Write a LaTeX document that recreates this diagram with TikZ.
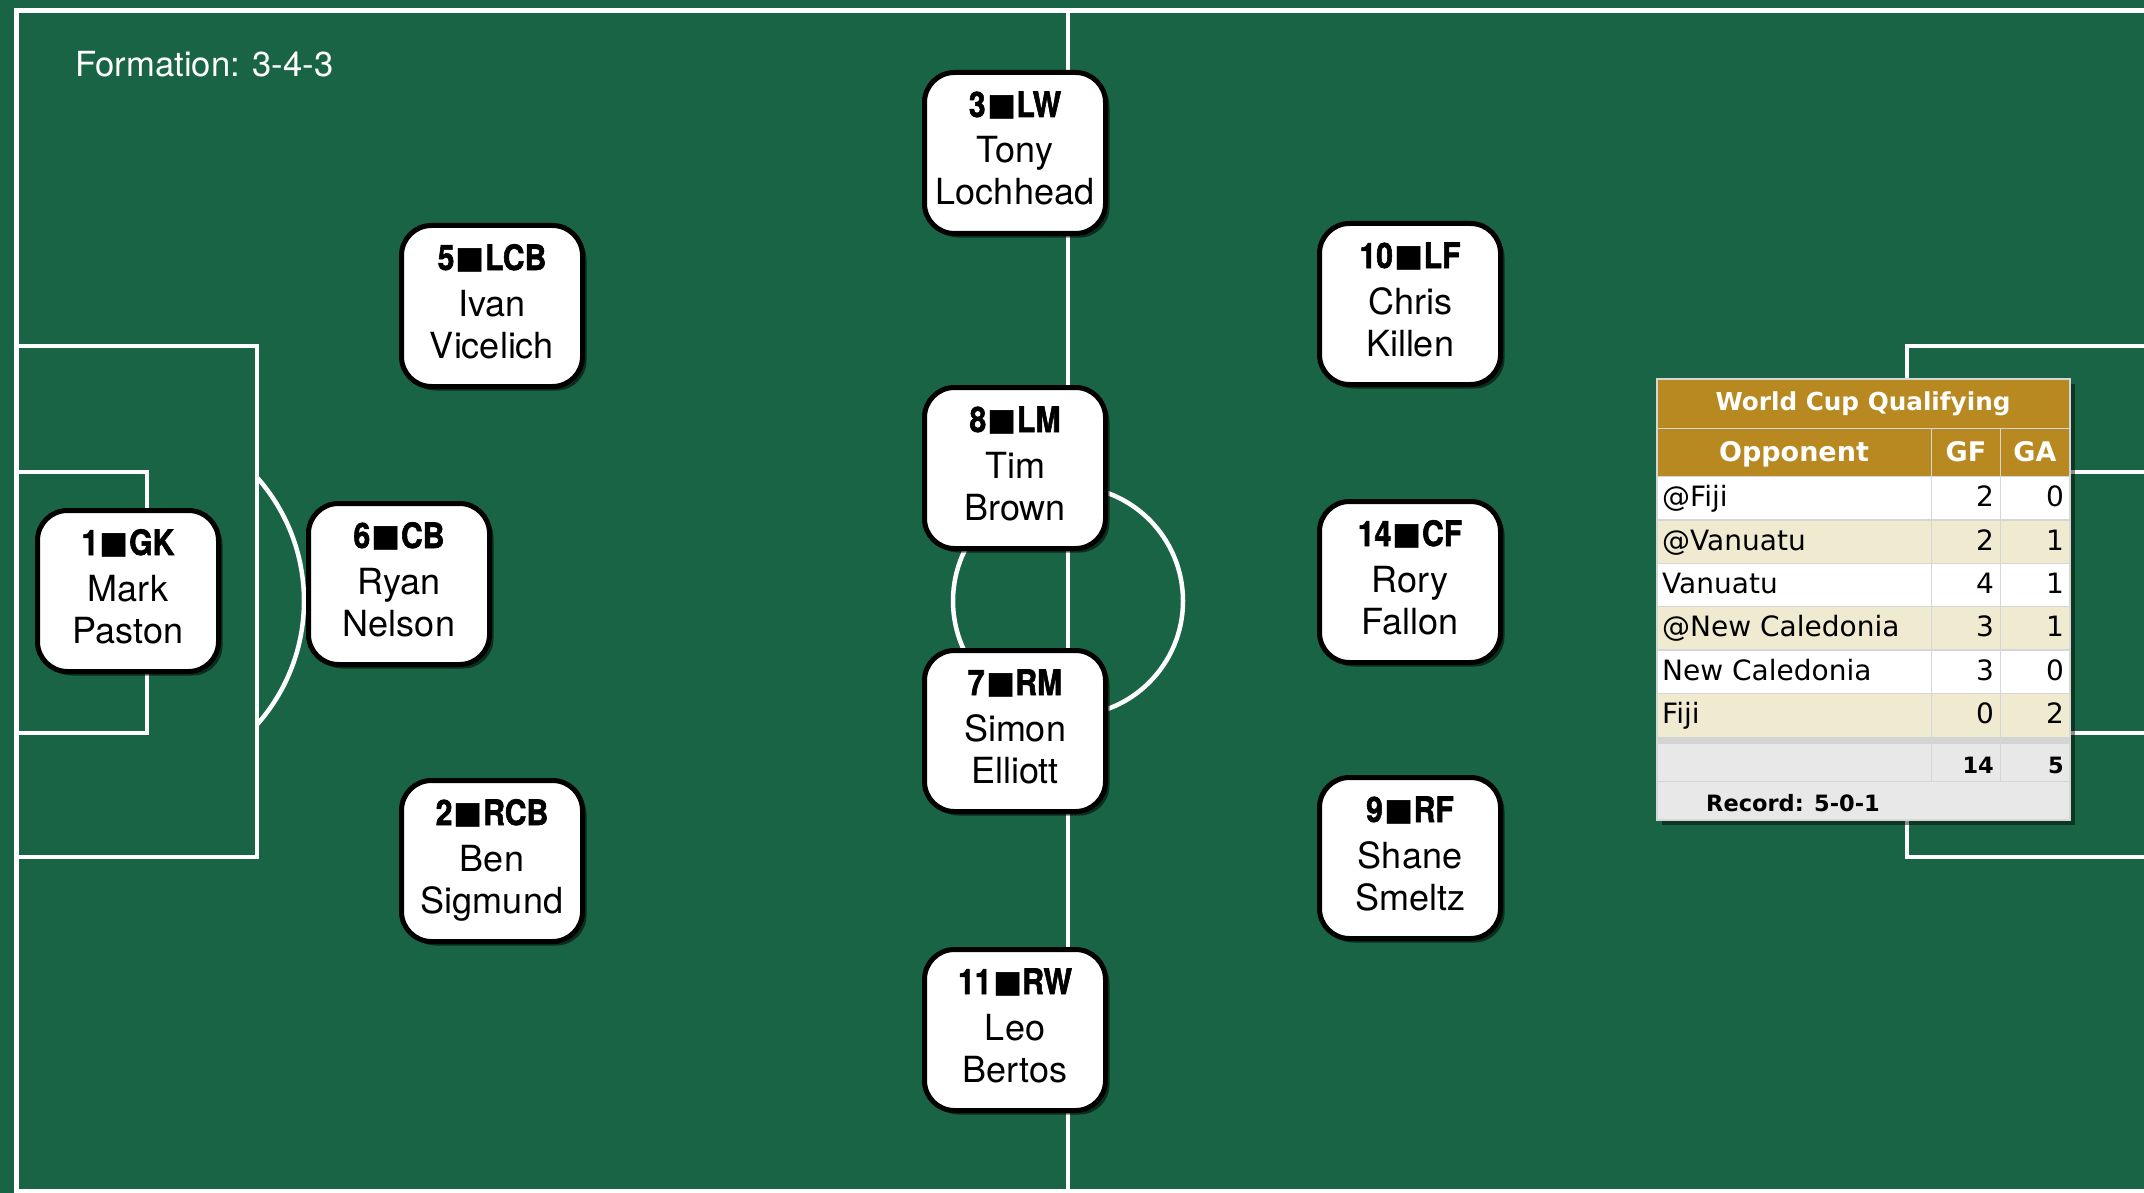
\documentclass[tikz,border=0pt]{standalone}
\usepackage{fontspec}
\setmainfont{TeX Gyre Heros}
\newfontfamily\tabfont{DejaVu Sans}
\newfontfamily\posfont{TeX Gyre Heros}[FakeStretch=0.86,FakeBold=1.6]
\newfontfamily\sqfont{DejaVu Sans}
\usetikzlibrary{shadows,calc}
\definecolor{pitch}{RGB}{25,100,68}
\definecolor{gold}{RGB}{184,137,32}
\definecolor{beige}{RGB}{240,234,208}
\definecolor{totgray}{RGB}{232,232,232}
\definecolor{sepgray}{RGB}{212,212,212}
\definecolor{gridgray}{RGB}{214,214,214}
\tikzset{
 fieldline/.style={draw=white, line width=4.5pt},
 pbox/.style={draw=black, fill=white, line width=5pt, rounded corners=30pt,
   minimum width=181pt, minimum height=161pt, inner sep=0pt,
   drop shadow={shadow xshift=4pt, shadow yshift=-4pt, opacity=0.55, fill=black}},
 plabel/.style={anchor=base, inner sep=0pt, font=\posfont\bfseries\fontsize{35}{40}\selectfont},
 pname/.style={anchor=base, inner sep=0pt, font=\fontsize{36}{40}\selectfont},
 ttitle/.style={anchor=base, inner sep=0pt, text=white, font=\tabfont\bfseries\fontsize{24.7}{30}\selectfont},
 thead/.style={anchor=base, inner sep=0pt, text=white, font=\tabfont\bfseries\fontsize{27}{30}\selectfont},
 tcell/.style={inner sep=0pt, font=\tabfont\fontsize{28}{30}\selectfont},
 ttot/.style={inner sep=0pt, font=\tabfont\bfseries\fontsize{22.5}{26}\selectfont},
 gridln/.style={draw=gridgray, line width=1.3pt},
}
\newcommand{\player}[7]{%
  \node[pbox] (#1) at (#2,#3) {};
  \node[plabel] (#1-pos) at ($(#1.center)+(0,-36)$) {#4\hspace{1.5pt}\raisebox{1.5pt}{\sqfont\fontsize{31}{31}\selectfont ■}\hspace{0pt}#5};
  \node[pname] (#1-first) at ($(#1.center)+(0,10)$) {#6};
  \node[pname] (#1-last) at ($(#1.center)+(0,52)$) {#7};
}
\begin{document}
\begin{tikzpicture}[x=1pt,y=-1pt]
\useasboundingbox (0,0) rectangle (2144,1193);
\fill[pitch] (0,0) rectangle (2144,1193);
% field markings
\draw[fieldline] (16.5,10.5) rectangle (2146,1191);
\draw[fieldline] (1068,10.5) -- (1068,1191);
\draw[fieldline] (1068,601) circle [radius=115];
\draw[fieldline] (16.5,346) rectangle (257,857);
\draw[fieldline] (16.5,472) rectangle (147,733);
\begin{scope}
  \clip (257,0) rectangle (600,1193);
  \draw[fieldline] (118,601) circle [radius=186];
\end{scope}
\draw[fieldline] (1907,346) rectangle (2146,857);
\draw[fieldline] (2016,472) rectangle (2146,733);
\begin{scope}
  \clip (1500,0) rectangle (1907,1193);
  \draw[fieldline] (2044.5,601) circle [radius=186];
\end{scope}
% formation label
\node[anchor=base west, inner sep=0pt, text=white, font=\fontsize{34.6}{40}\selectfont] (formation) at (75,77) {Formation: 3-4-3};
% players
\player{gk}{128}{591}{1}{GK}{Mark}{Paston}
\player{lcb}{492}{306}{5}{LCB}{Ivan}{Vicelich}
\player{cb}{399}{584}{6}{CB}{Ryan}{Nelson}
\player{rcb}{492}{861}{2}{RCB}{Ben}{Sigmund}
\player{lw}{1015}{153}{3}{LW}{Tony}{Lochhead}
\player{lm}{1015}{468}{8}{LM}{Tim}{Brown}
\player{rm}{1015}{731}{7}{RM}{Simon}{Elliott}
\player{rw}{1015}{1030}{11}{RW}{Leo}{Bertos}
\player{lf}{1410}{304}{10}{LF}{Chris}{Killen}
\player{cf}{1410}{582}{14}{CF}{Rory}{Fallon}
\player{rf}{1410}{858}{9}{RF}{Shane}{Smeltz}
% table
\path[fill=white, drop shadow={shadow xshift=5pt, shadow yshift=-5pt, opacity=0.45, fill=black}] (1657,379) rectangle (2070,820);
\fill[gold] (1657,379) rectangle (2070,476.7);
\fill[beige] (1657,520) rectangle (2070,563.3);
\fill[beige] (1657,606.7) rectangle (2070,650);
\fill[beige] (1657,693.3) rectangle (2070,736.7);
\fill[sepgray] (1657,736.7) rectangle (2070,744);
\fill[totgray] (1657,744) rectangle (2070,820);
\foreach \yy in {428.3,476.7,520,563.3,606.7,650,693.3,781.7}
  \draw[gridln] (1657,\yy) -- (2070,\yy);
\draw[gridln] (1931.7,428.3) -- (1931.7,781.7);
\draw[gridln] (2000.7,428.3) -- (2000.7,781.7);
\draw[gridln] (1657,379) rectangle (2070,820);
\node[ttitle] (t-title) at (1863,410) {World Cup Qualifying};
\node[thead] (t-opp) at (1794,461.7) {Opponent};
\node[thead] (t-gf) at (1966,461.7) {GF};
\node[thead] (t-ga) at (2035,461.7) {GA};
\node[tcell, anchor=base west] (r1n) at (1662,506.7) {@Fiji};
\node[tcell, anchor=base east] (r1f) at (1994,506.7) {2};
\node[tcell, anchor=base east] (r1a) at (2064,506.7) {0};
\node[tcell, anchor=base west] (r2n) at (1662,550) {@Vanuatu};
\node[tcell, anchor=base east] (r2f) at (1994,550) {2};
\node[tcell, anchor=base east] (r2a) at (2064,550) {1};
\node[tcell, anchor=base west] (r3n) at (1662,593.3) {Vanuatu};
\node[tcell, anchor=base east] (r3f) at (1994,593.3) {4};
\node[tcell, anchor=base east] (r3a) at (2064,593.3) {1};
\node[tcell, anchor=base west] (r4n) at (1662,636.7) {@New Caledonia};
\node[tcell, anchor=base east] (r4f) at (1994,636.7) {3};
\node[tcell, anchor=base east] (r4a) at (2064,636.7) {1};
\node[tcell, anchor=base west] (r5n) at (1662,680) {New Caledonia};
\node[tcell, anchor=base east] (r5f) at (1994,680) {3};
\node[tcell, anchor=base east] (r5a) at (2064,680) {0};
\node[tcell, anchor=base west] (r6n) at (1662,723.3) {Fiji};
\node[tcell, anchor=base east] (r6f) at (1994,723.3) {0};
\node[tcell, anchor=base east] (r6a) at (2064,723.3) {2};
\node[ttot, anchor=base east] (tot-f) at (1994,773) {14};
\node[ttot, anchor=base east] (tot-a) at (2064,773) {5};
\node[ttot, anchor=base] (record) at (1793,811.7) {Record: 5-0-1};
\end{tikzpicture}
\end{document}
